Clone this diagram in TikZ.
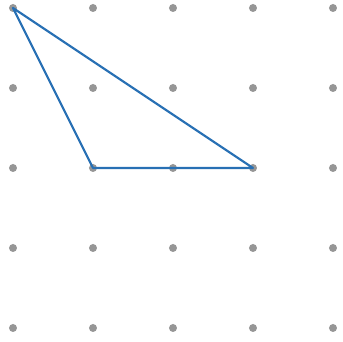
\documentclass[tikz,border=0pt]{standalone}
\usepackage{amsmath,amssymb}
\usetikzlibrary{positioning}

\definecolor{dotgray}{RGB}{150,150,150}
\definecolor{edgeblue}{RGB}{40,112,180}

\begin{document}
\begin{tikzpicture}[line join=round]
  \useasboundingbox (-0.1625,-0.175) rectangle (4.125,4.1);

  % Dot lattice
  \foreach \i in {0,...,4} {
    \foreach \j in {0,...,4} {
      \coordinate (p\i\j) at (\i,\j);
      \fill[dotgray] (p\i\j) circle (0.05);
    }
  }

  % Triangle on the lattice
  \draw[edgeblue, line width=0.75pt] (p04) -- (p12) -- (p32) -- cycle;

\end{tikzpicture}
\end{document}
